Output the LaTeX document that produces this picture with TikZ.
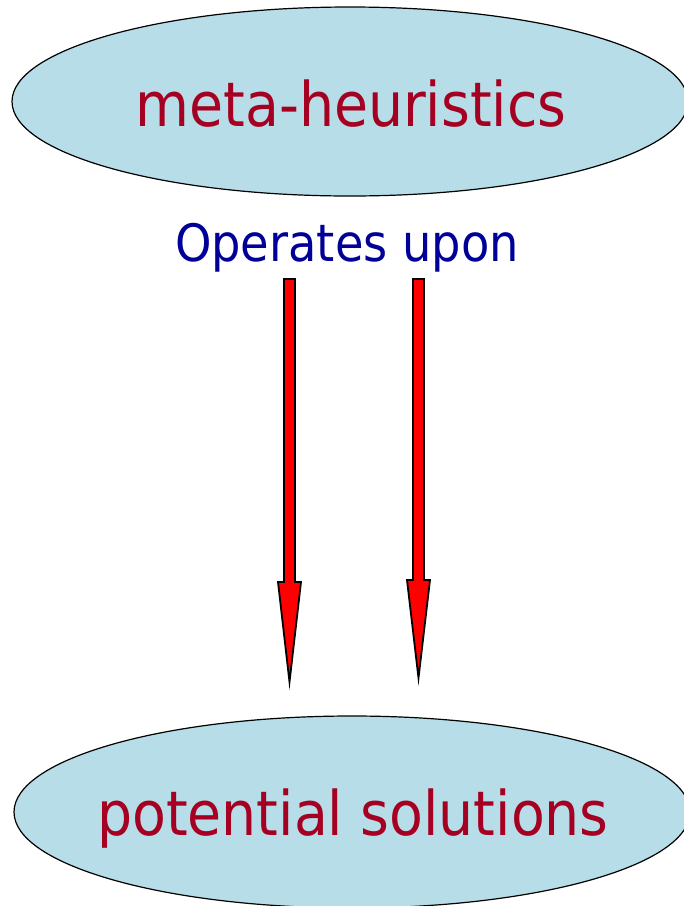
\documentclass[tikz,border=0pt]{standalone}
\usepackage{fontspec}
\setmainfont{DejaVu Sans Condensed}
\usetikzlibrary{shapes.geometric}
\definecolor{ellfill}{HTML}{B7DDE8}
\definecolor{txtred}{HTML}{A50021}
\definecolor{txtblue}{HTML}{000099}
\tikzset{
  oval/.style={ellipse, draw=black, line width=1.2pt, fill=ellfill, inner sep=0pt},
  ovaltext/.style={text=txtred, font=\fontsize{61.5}{61.5}\selectfont},
  blockarrow/.style={draw=black, line width=1.8pt, fill=red, line join=miter},
}
\begin{document}
\begin{tikzpicture}[x=1pt,y=-1pt]
\useasboundingbox (0,0) rectangle (684,906);
\node[oval, minimum width=676, minimum height=189] (meta) at (350,101.5) {};
\node[ovaltext] (metatext) at (351,104) {meta-heuristics};
\node[oval, minimum width=676, minimum height=192] (pot) at (352,812) {};
\node[ovaltext] (pottext) at (353,819) {potential solutions};
\node[text=txtblue, font=\fontsize{51.5}{51.5}\selectfont] (ops) at (347,248) {Operates upon};
% left arrow
\draw[blockarrow] (284,279) -- (295,279) -- (295,582) -- (301,582) -- (289.5,682) -- (278,582) -- (284,582) -- cycle;
% right arrow
\draw[blockarrow] (413,279) -- (424,279) -- (424,580) -- (430,580) -- (418.5,678) -- (407,580) -- (413,580) -- cycle;
\end{tikzpicture}
\end{document}
